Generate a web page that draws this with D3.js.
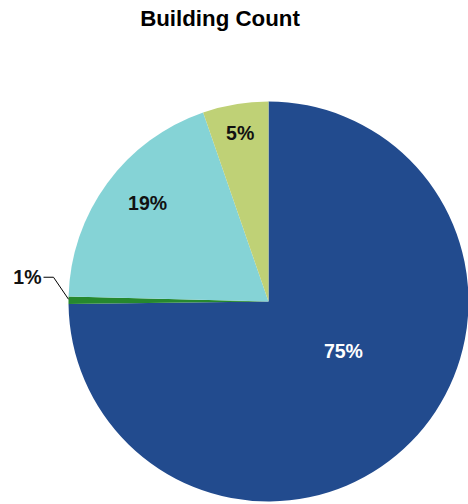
<!DOCTYPE html>
<html>
<head>
<meta charset="utf-8">
<script src="https://cdn.jsdelivr.net/npm/d3@7"></script>
<style>
  html, body { margin: 0; padding: 0; background: #ffffff; }
  svg { display: block; font-family: "Liberation Sans", Arial, sans-serif; }
</style>
</head>
<body>
<svg id="chart" width="468" height="504"></svg>
<script>
// Share of buildings by category (percent)
const categories = ["A", "B", "C", "D"];
const shares = [74.8, 0.6, 19.3, 5.3];
const sliceColors = ["#224B8E", "#26882E", "#85D3D6", "#BFD176"];
const labelColors = ["#ffffff", "#111111", "#111111", "#111111"];

const W = 468, H = 504;
const cx = 268.5, cy = 301.5, R = 200;

// Label placement: fraction of radius and angle nudge (degrees) per slice;
// the tiny slice gets an outside label with a leader line.
const labelPlace = [
  { inside: true, rf: 0.45, nudge: -11 },
  { inside: false },
  { inside: true, rf: 0.78, nudge: 3 },
  { inside: true, rf: 0.855, nudge: 0 }
];

const svg = d3.select("#chart");

svg.append("text")
  .attr("x", 220)
  .attr("y", 26)
  .attr("text-anchor", "middle")
  .attr("font-size", 22.3)
  .attr("font-weight", "bold")
  .attr("fill", "#000")
  .text("Building Count");

const pie = d3.pie().sort(null).value(d => d)(shares);
const arc = d3.arc().innerRadius(0).outerRadius(R);

const g = svg.append("g").attr("transform", `translate(${cx},${cy})`);

g.selectAll("path.slice")
  .data(pie)
  .join("path")
  .attr("class", "slice")
  .attr("d", arc)
  .attr("fill", (d, i) => sliceColors[i]);

const fmt = v => Math.round(v) + "%";

pie.forEach((d, i) => {
  const p = labelPlace[i];
  const mid = (d.startAngle + d.endAngle) / 2;
  if (p.inside) {
    const a = mid + p.nudge * Math.PI / 180;
    const r = p.rf * R;
    g.append("text")
      .attr("x", r * Math.sin(a))
      .attr("y", -r * Math.cos(a))
      .attr("dy", "0.36em")
      .attr("text-anchor", "middle")
      .attr("font-size", 19.5)
      .attr("font-weight", "bold")
      .attr("fill", labelColors[i])
      .text(fmt(shares[i]));
  } else {
    // leader line from slice edge out to the label
    const ex = R * Math.sin(mid), ey = -R * Math.cos(mid);
    const kx = ex - 15, ky = ey - 23;
    const lx = kx - 10;
    g.append("polyline")
      .attr("points", `${ex},${ey - 1} ${kx},${ky} ${lx},${ky}`)
      .attr("fill", "none")
      .attr("stroke", "#000")
      .attr("stroke-width", 1);
    g.append("text")
      .attr("x", lx - 2)
      .attr("y", ky)
      .attr("dy", "0.36em")
      .attr("text-anchor", "end")
      .attr("font-size", 19.5)
      .attr("font-weight", "bold")
      .attr("fill", labelColors[i])
      .text(fmt(shares[i]));
  }
});
</script>
</body>
</html>
